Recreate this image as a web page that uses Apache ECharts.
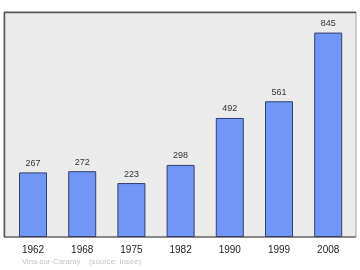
<!DOCTYPE html>
<html>
<head>
<meta charset="utf-8">
<script src="https://cdn.jsdelivr.net/npm/echarts@6/dist/echarts.min.js"></script>
<style>html,body{margin:0;padding:0;background:#fff;}#c{width:360px;height:270px;}</style>
</head>
<body>
<div id="c"></div>
<script>
var years = ['1962', '1968', '1975', '1982', '1990', '1999', '2008'];
var population = [267, 272, 223, 298, 492, 561, 845];
var sourceText = 'Vins-sur-Caramy    (source: Insee)';

var chart = echarts.init(document.getElementById('c'), null, {renderer: 'canvas'});
chart.setOption({
  animation: false,
  backgroundColor: '#ffffff',
  textStyle: {fontFamily: 'Liberation Sans, Arial, sans-serif'},
  graphic: [
    {type: 'rect', z: -10, shape: {x: 4, y: 12, width: 352, height: 225},
     style: {fill: '#ebebeb', stroke: '#a0a0a0', lineWidth: 1}},
    {type: 'polyline', z: -5, shape: {points: [[4.5, 237], [4.5, 12.5], [356, 12.5]]},
     style: {stroke: '#555', lineWidth: 1.5, fill: null}},
    {type: 'line', z: 10, shape: {x1: 4, y1: 237, x2: 356, y2: 237},
     style: {stroke: '#444', lineWidth: 1.2}},
    {type: 'text', left: 22, top: 257.5,
     style: {text: sourceText, fill: '#c4c4c4', fontSize: 7.8, fontFamily: 'Liberation Sans, Arial, sans-serif'}}
  ],
  grid: {left: 8.4, right: 7.2, top: 12, bottom: 33, containLabel: false},
  xAxis: {
    type: 'category', data: years,
    axisLine: {show: false}, axisTick: {show: false},
    axisLabel: {color: '#222', fontSize: 10, margin: 8.5}
  },
  yAxis: {type: 'value', min: 0, max: 930, show: false, splitLine: {show: false}},
  series: [{
    type: 'bar', data: population, barWidth: 28,
    itemStyle: {color: '#7096f8', borderColor: '#2f3f6f', borderWidth: 1},
    label: {show: true, position: 'top', distance: 4.5, color: '#333', fontSize: 9}
  }]
});
</script>
</body>
</html>
